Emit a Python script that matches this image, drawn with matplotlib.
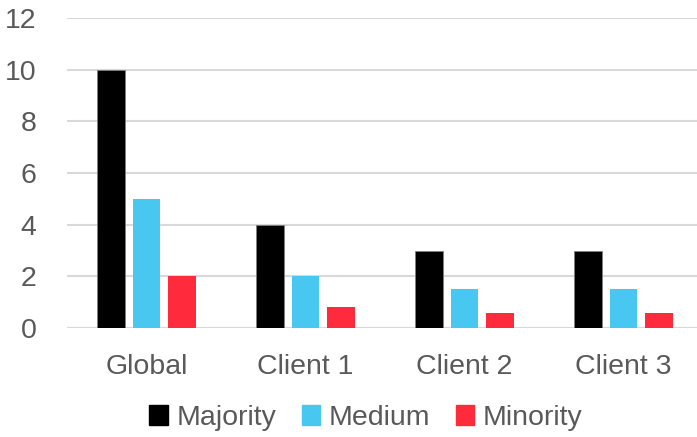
import numpy as np
import matplotlib.pyplot as plt
from matplotlib.patches import Patch

plt.rcParams['font.family'] = ['Liberation Sans', 'DejaVu Sans']

categories = ["Global", "Client 1", "Client 2", "Client 3"]
majority = [10, 4, 3, 3]
medium = [5, 2, 1.5, 1.5]
minority = [2, 0.8, 0.6, 0.6]

c_maj = "#000000"
c_med = "#48C8F0"
c_min = "#FF2B3D"
txt = "#595959"

fig = plt.figure(figsize=(6.97, 4.37), dpi=100)
ax = fig.add_axes([67/697, 1 - 328/437, 630/697, 310/437])

x = np.arange(len(categories))
w = 0.176
off = 0.222
ax.bar(x - off, majority, w, color=c_maj, edgecolor="#7f7f7f", linewidth=0.6, zorder=3)
ax.bar(x, medium, w, color=c_med, zorder=3)
ax.bar(x + off, minority, w, color=c_min, zorder=3)

ax.set_ylim(0, 12)
ax.set_xlim(-0.5, -0.5 + 630/159)
ax.set_yticks(np.arange(0, 13, 2))
ax.set_xticks(x)
ax.set_xticklabels(categories)
ax.yaxis.grid(True, color="#D9D9D9", linewidth=1.5, zorder=0)
ax.set_axisbelow(True)
for s in ax.spines.values():
    s.set_visible(False)
ax.tick_params(axis='both', length=0, labelsize=20.5, colors=txt)
ax.tick_params(axis='y', pad=22)
ax.tick_params(axis='x', pad=19)

handles = [Patch(color=c_maj), Patch(color=c_med), Patch(color=c_min)]
fig.legend(handles, ["Majority", "Medium", "Minority"], loc='center',
           bbox_to_anchor=(366/697, 1 - 418/437), ncol=3, frameon=False,
           fontsize=20.5, labelcolor=txt, handlelength=0.65, handleheight=0.65,
           handletextpad=0.3, columnspacing=0.9)

fig.savefig("out.png", dpi=100)
